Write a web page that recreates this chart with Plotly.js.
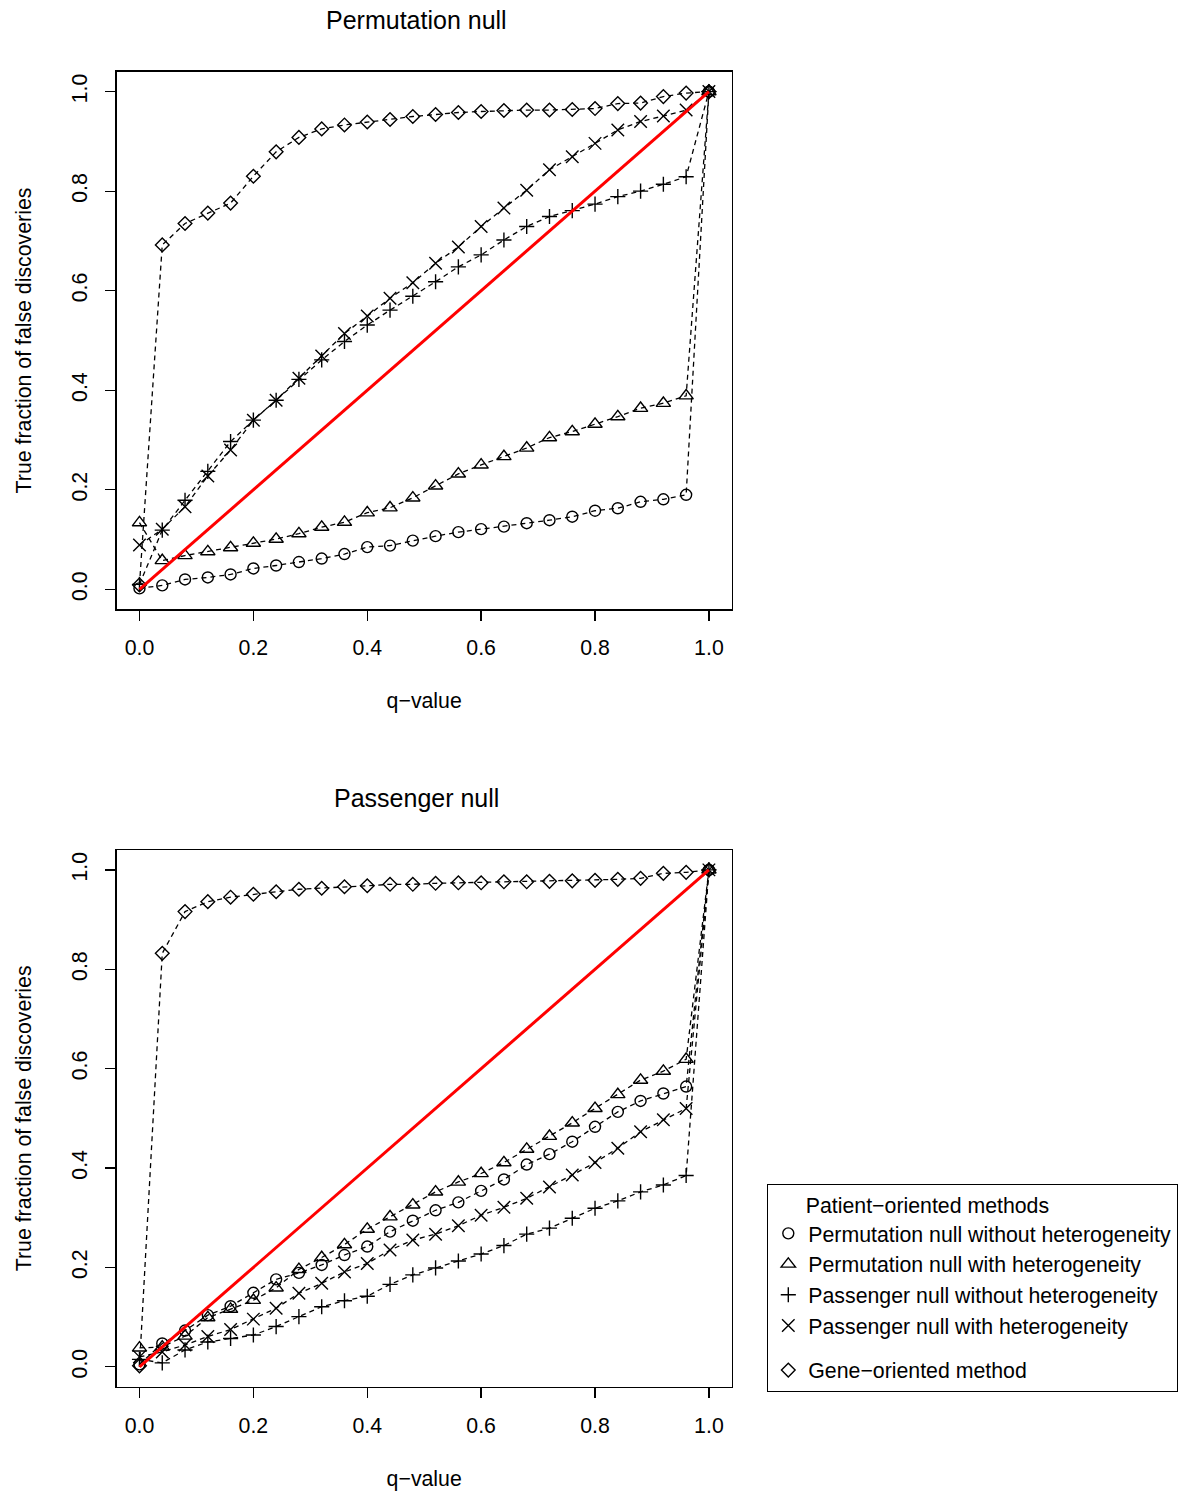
<!DOCTYPE html>
<html>
<head>
<meta charset="utf-8">
<script src="https://cdn.plot.ly/plotly-3.0.1.min.js"></script>
<style>
  html, body { margin: 0; padding: 0; background: #ffffff; }
  #chart { width: 1200px; height: 1500px; }
</style>
</head>
<body>
<div id="chart"></div>
<script>
// ---------- data ----------
const qValues = [0, 0.04, 0.08, 0.12, 0.16, 0.20, 0.24, 0.28, 0.32, 0.36, 0.40, 0.44, 0.48,
                 0.52, 0.56, 0.60, 0.64, 0.68, 0.72, 0.76, 0.80, 0.84, 0.88, 0.92, 0.96, 1.0];

const seriesNames = [
  'Permutation null without heterogeneity',
  'Permutation null with heterogeneity',
  'Passenger null without heterogeneity',
  'Passenger null with heterogeneity',
  'Gene\u2212oriented method'
];

// Panel 1: Permutation null
const permCircle  = [0.002, 0.008, 0.020, 0.024, 0.030, 0.042, 0.048, 0.055, 0.062, 0.071, 0.085, 0.088, 0.098,
                     0.107, 0.115, 0.121, 0.126, 0.133, 0.139, 0.146, 0.158, 0.163, 0.176, 0.181, 0.190, 1.0];
const permTri     = [0.134, 0.058, 0.068, 0.076, 0.084, 0.093, 0.101, 0.112, 0.125, 0.135, 0.154, 0.164, 0.184,
                     0.208, 0.232, 0.250, 0.267, 0.284, 0.305, 0.317, 0.332, 0.347, 0.364, 0.374, 0.389, 1.0];
const permPlus    = [0.010, 0.119, 0.179, 0.237, 0.297, 0.340, 0.380, 0.422, 0.461, 0.498, 0.531, 0.561, 0.589,
                     0.618, 0.648, 0.672, 0.702, 0.729, 0.749, 0.761, 0.774, 0.789, 0.800, 0.814, 0.829, 1.0];
const permCross   = [0.089, 0.121, 0.166, 0.228, 0.280, 0.340, 0.380, 0.424, 0.469, 0.514, 0.549, 0.585, 0.616,
                     0.655, 0.688, 0.729, 0.766, 0.802, 0.843, 0.869, 0.896, 0.923, 0.940, 0.951, 0.963, 1.0];
const permDiamond = [0.009, 0.692, 0.735, 0.756, 0.776, 0.830, 0.879, 0.908, 0.925, 0.933, 0.939, 0.944, 0.950,
                     0.954, 0.958, 0.960, 0.962, 0.963, 0.963, 0.964, 0.966, 0.976, 0.977, 0.990, 0.997, 1.0];

// Panel 2: Passenger null
const passCircle  = [0.005, 0.047, 0.073, 0.104, 0.122, 0.149, 0.176, 0.189, 0.205, 0.225, 0.242, 0.272, 0.294,
                     0.315, 0.331, 0.354, 0.377, 0.407, 0.428, 0.453, 0.483, 0.513, 0.535, 0.550, 0.564, 1.0];
const passTri     = [0.038, 0.040, 0.062, 0.099, 0.116, 0.134, 0.159, 0.196, 0.220, 0.246, 0.277, 0.302, 0.326,
                     0.352, 0.372, 0.389, 0.411, 0.438, 0.464, 0.491, 0.520, 0.548, 0.577, 0.595, 0.619, 1.0];
const passPlus    = [0.015, 0.008, 0.034, 0.050, 0.057, 0.064, 0.081, 0.101, 0.121, 0.133, 0.142, 0.166, 0.185,
                     0.199, 0.213, 0.227, 0.244, 0.267, 0.279, 0.299, 0.319, 0.334, 0.352, 0.366, 0.385, 1.0];
const passCross   = [0.020, 0.030, 0.044, 0.061, 0.075, 0.096, 0.118, 0.148, 0.168, 0.191, 0.208, 0.235, 0.255,
                     0.267, 0.284, 0.305, 0.321, 0.339, 0.362, 0.386, 0.411, 0.440, 0.473, 0.497, 0.520, 1.0];
const passDiamond = [0.002, 0.832, 0.916, 0.936, 0.945, 0.951, 0.956, 0.961, 0.963, 0.966, 0.968, 0.971, 0.971,
                     0.973, 0.974, 0.974, 0.976, 0.976, 0.977, 0.978, 0.979, 0.981, 0.983, 0.993, 0.995, 1.0];

// identity reference line
const refX = [0, 1];
const refY = [0, 1];

const panelTitles = ['Permutation null', 'Passenger null'];
const xTitle = 'q\u2212value';
const yTitle = 'True fraction of false discoveries';
const legendHeading = 'Patient\u2212oriented methods';
const tickVals = [0, 0.2, 0.4, 0.6, 0.8, 1.0];
const tickText = ['0.0', '0.2', '0.4', '0.6', '0.8', '1.0'];

// ---------- styling ----------
const FONT = '"Liberation Sans", Arial, Helvetica, sans-serif';
const FS = 21.3;
const markerStyles = [
  {symbol: 'circle-open',      size: 11},
  {symbol: 'triangle-up-open', size: 12.5},
  {symbol: 'cross-thin-open',  size: 10.8},
  {symbol: 'x-thin-open',      size: 12.5},
  {symbol: 'diamond-open',     size: 10.5}
];
const groups = ['patient', 'patient', 'patient', 'patient', 'gene'];

function panelTraces(seriesList, xa, ya, showLegend) {
  const lines = [], marks = [];
  seriesList.forEach((ys, i) => {
    lines.push({
      type: 'scatter', mode: 'lines', x: qValues, y: ys, xaxis: xa, yaxis: ya,
      line: {color: '#000000', width: 1.3, dash: '5px,4px'},
      showlegend: false, hoverinfo: 'skip', legendgroup: groups[i]
    });
    marks.push({
      type: 'scatter', mode: 'markers', x: qValues, y: ys, xaxis: xa, yaxis: ya,
      name: seriesNames[i], legendgroup: groups[i], showlegend: showLegend,
      marker: {symbol: markerStyles[i].symbol, size: markerStyles[i].size,
               color: '#000000', line: {color: '#000000', width: 1.4}}
    });
  });
  const ref = {
    type: 'scatter', mode: 'lines', x: refX, y: refY, xaxis: xa, yaxis: ya,
    line: {color: '#ff0000', width: 3}, showlegend: false, hoverinfo: 'skip'
  };
  return lines.concat(marks, [ref]);
}

const traces = []
  .concat(panelTraces([permCircle, permTri, permPlus, permCross, permDiamond], 'x', 'y', false))
  .concat(panelTraces([passCircle, passTri, passPlus, passCross, passDiamond], 'x2', 'y2', true));

const W = 1200, H = 1500;
const xDomain = [116.7 / W, 731.7 / W];
const yDomTop = [1 - 609.3 / H, 1 - 71.7 / H];
const yDomBot = [1 - 1386.7 / H, 1 - 850 / H];

function xAxis(anchor) {
  return {
    domain: xDomain, anchor: anchor, range: [-0.04, 1.04],
    showgrid: false, zeroline: false,
    showline: true, mirror: true, linecolor: '#000000', linewidth: 1.4,
    ticks: 'outside', ticklen: 10, tickwidth: 1.3, tickcolor: '#000000',
    tickmode: 'array', tickvals: tickVals, ticktext: tickText,
    tickfont: {family: FONT, size: FS, color: '#000000'},
    ticklabelstandoff: 9,
    title: {text: xTitle, font: {family: FONT, size: FS, color: '#000000'}, standoff: 34},
    automargin: false
  };
}
function yAxis(anchor, domain) {
  return {
    domain: domain, anchor: anchor, range: [-0.04, 1.04],
    showgrid: false, zeroline: false,
    showline: true, mirror: true, linecolor: '#000000', linewidth: 1.4,
    ticks: 'outside', ticklen: 10, tickwidth: 1.3, tickcolor: '#000000',
    tickmode: 'array', tickvals: tickVals, ticktext: tickText,
    tickangle: -90,
    tickfont: {family: FONT, size: FS, color: '#000000'},
    ticklabelstandoff: 10,
    title: {text: yTitle, font: {family: FONT, size: FS, color: '#000000'}, standoff: 30},
    automargin: false
  };
}

const nb = '\u00A0';
const layout = {
  width: W, height: H,
  margin: {l: 0, r: 0, t: 0, b: 0},
  paper_bgcolor: '#ffffff', plot_bgcolor: '#ffffff',
  font: {family: FONT, size: FS, color: '#000000'},
  xaxis: xAxis('y'),
  yaxis: yAxis('x', yDomTop),
  xaxis2: xAxis('y2'),
  yaxis2: yAxis('x2', yDomBot),
  showlegend: true,
  legend: {
    x: 767 / W, y: 1 - 1184 / H, xanchor: 'left', yanchor: 'top',
    bgcolor: '#ffffff', bordercolor: '#000000', borderwidth: 1.3,
    font: {family: FONT, size: FS, color: '#000000'},
    title: {text: nb.repeat(6) + legendHeading, font: {family: FONT, size: FS, color: '#000000'}, side: 'top'},
    traceorder: 'grouped', tracegroupgap: 14
  },
  annotations: [
    {text: panelTitles[0], xref: 'paper', yref: 'paper', x: 416 / W, y: 1 - 20 / H,
     xanchor: 'center', yanchor: 'middle', showarrow: false,
     font: {family: FONT, size: 25, color: '#000000'}},
    {text: panelTitles[1], xref: 'paper', yref: 'paper', x: 417 / W, y: 1 - 798 / H,
     xanchor: 'center', yanchor: 'middle', showarrow: false,
     font: {family: FONT, size: 25, color: '#000000'}}
  ]
};

Plotly.newPlot('chart', traces, layout, {displayModeBar: false, staticPlot: true});
</script>
</body>
</html>
